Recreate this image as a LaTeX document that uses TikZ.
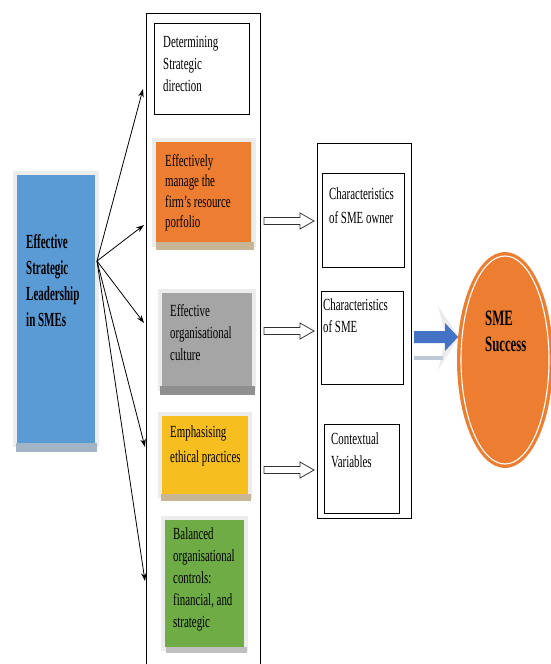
\documentclass[tikz,border=0pt]{standalone}
\usepackage{fontspec}
\setmainfont{Liberation Serif}
\newfontfamily\rfam{Liberation Serif}[FakeStretch=0.64]
\newfontfamily\bfam{Liberation Serif}[FakeStretch=0.55]
\newfontfamily\sfam{Liberation Serif}[FakeStretch=0.58]
\usetikzlibrary{arrows.meta,shapes.geometric,calc}
\definecolor{cBlue}{HTML}{5B9BD5}
\definecolor{cOrange}{HTML}{ED7D31}
\definecolor{cGrey}{HTML}{A5A5A5}
\definecolor{cYellow}{HTML}{F6BE1E}
\definecolor{cGreen}{HTML}{6FAC46}
\definecolor{cArrow}{HTML}{4472C4}
\definecolor{halo}{HTML}{ECECEC}
\definecolor{tanshadow}{HTML}{C8B596}
\definecolor{greyshadow}{HTML}{8F8F8F}
\definecolor{blueshadow}{HTML}{A3B4C6}
\tikzset{
  boxnode/.style={anchor=north west, inner sep=0, outer sep=0},
  framebox/.style={boxnode, draw=black, line width=0.9pt},
  txt/.style={anchor=north west, inner sep=0, align=left, font=\rfam\fontsize{17}{22}\selectfont},
  btxt/.style={anchor=north west, inner sep=0, align=left, font=\bfam\bfseries\fontsize{20}{26}\selectfont},
  conn/.style={draw=black, line width=0.8pt, -{Stealth[length=8pt,width=5.5pt]}},
  hollow/.style={draw=black!80, line width=0.8pt, fill=white},
}
\begin{document}
\begin{tikzpicture}[x=1pt,y=-1pt]
\useasboundingbox[fill=white] (0,0) rectangle (550,664);

% ---- left blue box
\fill[halo] (13,171) rectangle (99,447);
\fill[blueshadow] (16,443) rectangle (97,452);
\node[boxnode, fill=cBlue, minimum width=78pt, minimum height=268pt] (lead) at (17,175) {};
\node[btxt] (leadtxt) at (26,234) {Effective\\Strategic\\Leadership\\in SMEs};

% ---- middle column
\draw[line width=0.9pt] (146,680) -- (146,13) -- (260,13) -- (260,680);
\coordinate (colL) at (146,13);

\node[framebox, fill=white, minimum width=95pt, minimum height=91pt] (b1) at (154,23) {};
\node[txt] (b1t) at (163,36) {Determining\\Strategic\\direction};

\fill[halo] (152,138) rectangle (256,247);
\fill[tanshadow] (156,242) rectangle (254,250);
\node[boxnode, fill=cOrange, minimum width=95pt, minimum height=100pt] (b2) at (156,142) {};
\node[txt, font=\rfam\fontsize{17}{20.5}\selectfont] (b2t) at (165,154) {Effectively\\manage the\\firm’s resource\\porfolio};

\fill[halo] (158,289) rectangle (256,391);
\fill[greyshadow] (160,386) rectangle (255,395);
\node[boxnode, fill=cGrey, minimum width=90pt, minimum height=93pt] (b3) at (162,293) {};
\node[txt] (b3t) at (170,304) {Effective\\organisational\\culture};

\fill[halo] (158,412) rectangle (252,498);
\fill[tanshadow] (161,494) rectangle (251,501);
\node[boxnode, fill=cYellow, minimum width=86pt, minimum height=78pt] (b4) at (162,416) {};
\node[txt, font=\rfam\fontsize{17}{25}\selectfont] (b4t) at (170,425) {Emphasising\\ethical practices};

\fill[halo] (161,516) rectangle (248,651);
\fill[black!25] (166,647) rectangle (247,653);
\node[boxnode, fill=cGreen, minimum width=79pt, minimum height=127pt] (b5) at (165,520) {};
\node[txt] (b5t) at (173,527) {Balanced\\organisational\\controls:\\financial, and\\strategic};

% ---- connectors from the blue box
\coordinate (src) at (97,261);
\coordinate (a1) at (143,89);
\coordinate (a2) at (144,225);
\coordinate (a3) at (144,323);
\coordinate (a4) at (145,447);
\coordinate (a5) at (145,581);
\draw[conn] (src) -- (a1);
\draw[conn] (src) -- (a2);
\draw[conn] (src) -- (a3);
\draw[conn] (src) -- (a4);
\draw[conn] (src) -- (a5);

% ---- hollow arrows
\coordinate (h1) at (264,221);
\coordinate (h2) at (264,331);
\coordinate (h3) at (264,470);
\foreach \h in {h1,h2,h3}{
  \draw[hollow, shift={(\h)}] (0,-3.5) -- (36,-3.5) -- (36,-8) -- (50,0) -- (36,8) -- (36,3.5) -- (0,3.5) -- cycle;
}

% ---- right column
\node[framebox, minimum width=94pt, minimum height=375pt] (colR) at (317,143) {};
\node[framebox, minimum width=82pt, minimum height=94pt] (c1) at (322,173) {};
\node[txt, font=\rfam\fontsize{17}{24}\selectfont] (c1t) at (329,188) {Characteristics\\of SME owner};
\node[framebox, minimum width=82pt, minimum height=93pt] (c2) at (321,291) {};
\node[txt, font=\rfam\fontsize{17}{21}\selectfont] (c2t) at (323,299) {Characteristics\\of SME};
\node[framebox, minimum width=75pt, minimum height=89pt] (c3) at (324,424) {};
\node[txt, font=\rfam\fontsize{17}{23}\selectfont] (c3t) at (331,432) {Contextual\\Variables};

% ---- blue arrow
\fill[black!8] (438,306) -- (459,337) -- (438,370) -- (446,337) -- cycle;
\fill[blueshadow!70] (414,356) rectangle (443,360);
\fill[cArrow] (414,331) -- (445,331) -- (445,323) -- (458,337) -- (445,351) -- (445,343) -- (414,343) -- cycle;

% ---- success ellipse
\node[ellipse, fill=cOrange, minimum width=96pt, minimum height=216pt, inner sep=0] (succ) at (505,360) {};
\draw[white, line width=1.1pt] (succ.center) ellipse [x radius=44, y radius=104];
\node[anchor=north west, inner sep=0, align=left, font=\sfam\bfseries\fontsize{22}{26}\selectfont] (succt) at (485,311) {SME\\Success};
\end{tikzpicture}
\end{document}
